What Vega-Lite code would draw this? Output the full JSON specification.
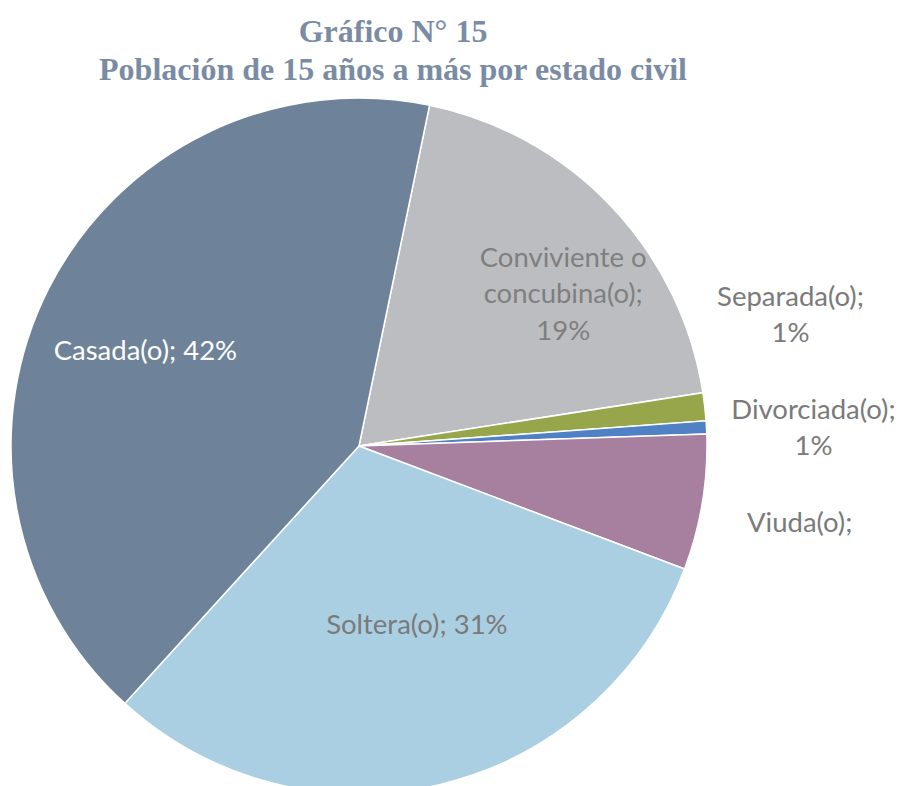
{
  "$schema": "https://vega.github.io/schema/vega-lite/v6.json",
  "width": 718,
  "height": 680,
  "autosize": {"type": "none"},
  "padding": {"left": 0, "top": 106, "right": 182, "bottom": 0},
  "background": "white",
  "view": {"stroke": null},
  "title": {
    "text": ["Gráfico N° 15", "Población de 15 años a más por estado civil"],
    "font": "Liberation Serif",
    "fontSize": 32,
    "fontWeight": "bold",
    "color": "#7a8ca3",
    "lineHeight": 38,
    "anchor": "middle",
    "frame": "group",
    "dx": 34,
    "dy": 32,
    "offset": -2
  },
  "data": {
    "values": [
      {"cat": "Conviviente o concubina(o)", "label": ["Conviviente o", "concubina(o);", "19%"], "pct": 19.3, "k": 1},
      {"cat": "Separada(o)", "label": ["Separada(o);", "1%"], "pct": 1.3, "k": 2},
      {"cat": "Divorciada(o)", "label": ["Divorciada(o);", "1%"], "pct": 0.6, "k": 3},
      {"cat": "Viuda(o)", "label": ["Viuda(o);"], "pct": 6.3, "k": 4},
      {"cat": "Soltera(o)", "label": ["Soltera(o); 31%"], "pct": 31.0, "k": 5},
      {"cat": "Casada(o)", "label": ["Casada(o); 42%"], "pct": 41.5, "k": 6}
    ]
  },
  "encoding": {
    "theta": {"field": "pct", "type": "quantitative", "stack": true, "scale": {"range": [0.2042, 6.4874]}},
    "order": {"field": "k", "type": "quantitative"},
    "detail": {"field": "cat", "type": "nominal"}
  },
  "layer": [
    {
      "mark": {"type": "arc", "radius": 348, "stroke": "white", "strokeWidth": 1.5},
      "encoding": {
        "color": {
          "field": "cat", "type": "nominal", "legend": null,
          "scale": {
            "domain": ["Conviviente o concubina(o)", "Separada(o)", "Divorciada(o)", "Viuda(o)", "Soltera(o)", "Casada(o)"],
            "range": ["#bcbdc1", "#97a64b", "#4f81c4", "#a780a0", "#abcfe2", "#6e8399"]
          }
        }
      }
    },
    {
      "mark": {"type": "text", "radius": 233, "dx": -6, "dy": 12, "font": "Lato", "fontSize": 27.5, "fill": "white", "align": "center", "baseline": "middle"},
      "encoding": {"text": {"condition": {"test": "datum.cat === 'Casada(o)'", "field": "label"}, "value": ""}}
    },
    {
      "mark": {"type": "text", "radius": 188, "dx": 14, "dy": -3, "font": "Lato", "fontSize": 27.5, "fill": "#7a7a7a", "align": "center", "baseline": "middle"},
      "encoding": {"text": {"condition": {"test": "datum.cat === 'Soltera(o)'", "field": "label"}, "value": ""}}
    },
    {
      "mark": {"type": "text", "radius": 257, "dx": 18, "dy": -10, "font": "Lato", "fontSize": 27.5, "fill": "#7f7f7f", "align": "center", "baseline": "middle", "lineHeight": 36.5},
      "encoding": {"text": {"condition": {"test": "datum.cat === 'Conviviente o concubina(o)'", "field": "label"}, "value": ""}}
    },
    {
      "mark": {"type": "text", "radius": 400, "dx": 34, "dy": -103, "font": "Lato", "fontSize": 27.5, "fill": "#7a7a7a", "align": "center", "baseline": "middle", "lineHeight": 36},
      "encoding": {"text": {"condition": {"test": "datum.cat === 'Separada(o)'", "field": "label"}, "value": ""}}
    },
    {
      "mark": {"type": "text", "radius": 400, "dx": 55, "dy": -14, "font": "Lato", "fontSize": 27.5, "fill": "#7a7a7a", "align": "center", "baseline": "middle", "lineHeight": 36},
      "encoding": {"text": {"condition": {"test": "datum.cat === 'Divorciada(o)'", "field": "label"}, "value": ""}}
    },
    {
      "mark": {"type": "text", "radius": 400, "dx": 46, "dy": 13, "font": "Lato", "fontSize": 27.5, "fill": "#7a7a7a", "align": "center", "baseline": "middle"},
      "encoding": {"text": {"condition": {"test": "datum.cat === 'Viuda(o)'", "field": "label"}, "value": ""}}
    }
  ]
}
